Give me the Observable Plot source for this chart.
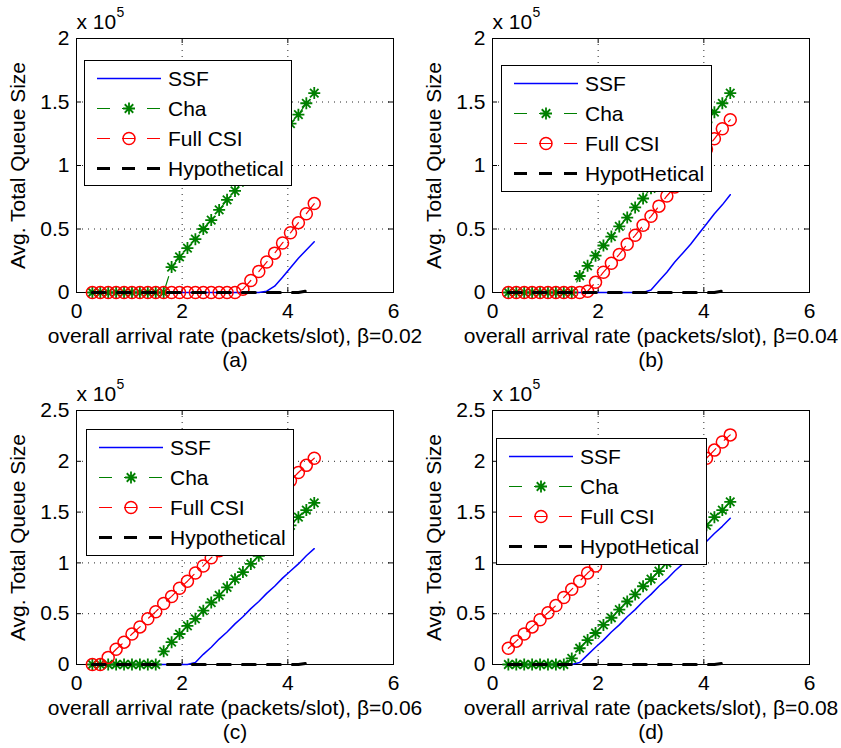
<!DOCTYPE html>
<html><head><meta charset="utf-8">
<script src="https://cdn.jsdelivr.net/npm/d3@7"></script>
<script src="https://cdn.jsdelivr.net/npm/@observablehq/plot@0.6"></script>
<style>
body{margin:0;background:#fff;}
#wrap{position:relative;width:841px;height:748px;font-family:"Liberation Sans",Arial,sans-serif;}
.panel{position:absolute;}
.panel svg{overflow:visible;}
.legend{position:absolute;overflow:visible;}
</style></head><body><div id="wrap"></div>
<script>
// ---- data (queue sizes in units of 1e5) ----
const rate = [0.3,0.45,0.6,0.75,0.9,1.05,1.2,1.35,1.5,1.65,1.8,1.95,2.1,2.25,2.4,2.55,2.7,2.85,3.0,3.15,3.3,3.45,3.6,3.75,3.9,4.05,4.2,4.35,4.5];
const xTicks = [0,2,4,6];
const yTicksAB = [0,0.5,1,1.5,2];
const yTicksCD = [0,0.5,1,1.5,2,2.5];
const seriesNames = ["SSF","Cha","Full CSI","Hypothetical"];
const seriesNamesAlt = ["SSF","Cha","Full CSI","HypotHetical"];
const xLabels = ["overall arrival rate (packets/slot), β=0.02","overall arrival rate (packets/slot), β=0.04","overall arrival rate (packets/slot), β=0.06","overall arrival rate (packets/slot), β=0.08"];
const tags = ["(a)","(b)","(c)","(d)"];
const yLabel = "Avg. Total Queue Size";

const ssfA  = [0,0,0,0,0,0,0,0,0,0,0,0,0,0,0,0,0,0,0,0,0,0,0.01,0.05,0.12,0.195,0.27,0.335,0.40];
const chaA  = [0,0,0,0,0,0,0,0,0,0,0.20,0.28,0.35,0.42,0.50,0.57,0.65,0.73,0.80,0.88,0.95,1.03,1.10,1.18,1.25,1.33,1.40,1.49,1.57];
const fullA = [0,0,0,0,0,0,0,0,0,0,0,0,0,0,0,0,0,0,0,0.025,0.095,0.165,0.24,0.31,0.39,0.47,0.55,0.62,0.70];
const hypA  = [0,0,0,0,0,0,0,0,0,0,0,0,0,0,0,0,0,0,0,0,0,0,0,0,0,0,0,0.012];

const ssfB  = [0,0,0,0,0,0,0,0,0,0,0,0,0,0,0,0,0,0,0.02,0.09,0.16,0.24,0.31,0.38,0.46,0.54,0.62,0.69,0.77];
const chaB  = [0,0,0,0,0,0,0,0,0,0.13,0.21,0.29,0.37,0.44,0.52,0.59,0.67,0.74,0.82,0.89,0.97,1.04,1.12,1.19,1.27,1.34,1.42,1.49,1.57];
const fullB = [0,0,0,0,0,0,0,0,0,0,0.01,0.08,0.16,0.23,0.30,0.38,0.45,0.53,0.60,0.68,0.76,0.83,0.91,0.98,1.06,1.13,1.21,1.29,1.36];
const hypB  = [0,0,0,0,0,0,0,0,0,0,0,0,0,0,0,0,0,0,0,0,0,0,0,0,0,0,0,0.012];

const ssfC  = [0,0,0,0,0,0,0,0,0,0,0,0,0,0.02,0.10,0.17,0.25,0.32,0.40,0.47,0.55,0.62,0.70,0.77,0.85,0.92,0.99,1.07,1.14];
const chaC  = [0,0,0,0,0,0,0,0,0,0.13,0.22,0.30,0.38,0.45,0.53,0.61,0.68,0.76,0.84,0.91,0.99,1.07,1.14,1.22,1.30,1.37,1.45,1.52,1.59];
const fullC = [0,0,0.07,0.15,0.22,0.30,0.37,0.45,0.52,0.60,0.67,0.75,0.82,0.90,0.97,1.05,1.12,1.20,1.27,1.35,1.42,1.50,1.57,1.65,1.73,1.81,1.89,1.96,2.03];
const hypC  = [0,0,0,0,0,0,0,0,0,0,0,0,0,0,0,0,0,0,0,0,0,0,0,0,0,0,0,0.012];

const ssfD  = [0,0,0,0,0,0,0,0,0,0.02,0.095,0.17,0.24,0.32,0.39,0.47,0.54,0.62,0.69,0.77,0.84,0.92,0.99,1.07,1.14,1.21,1.29,1.36,1.44];
const chaD  = [0,0,0,0,0,0,0,0,0.06,0.16,0.24,0.31,0.39,0.46,0.54,0.62,0.69,0.77,0.84,0.92,1.00,1.07,1.15,1.22,1.30,1.37,1.45,1.52,1.60];
const fullD = [0.16,0.23,0.30,0.37,0.44,0.51,0.58,0.66,0.74,0.82,0.90,0.97,1.05,1.12,1.20,1.27,1.35,1.43,1.50,1.58,1.65,1.73,1.80,1.88,1.96,2.03,2.11,2.19,2.26];
const hypD  = [0,0,0,0,0,0,0,0,0,0,0,0,0,0,0,0,0,0,0,0,0,0,0,0,0,0,0,0.012];

// ---- styling ----
const FONT = "Liberation Sans, Arial, Helvetica, sans-serif";
const FS = 21;
const C_SSF = "#0000ff", C_CHA = "#008000", C_FULL = "#ff0000", C_HYP = "#000000";
const DASH = "13,12";
const R_MARK = 6;

// MATLAB-like 8-arm asterisk
const star8 = {
  draw(ctx, size) {
    const r = Math.sqrt(size / Math.PI), d = r * Math.SQRT1_2;
    ctx.moveTo(-r, 0); ctx.lineTo(r, 0);
    ctx.moveTo(0, -r); ctx.lineTo(0, r);
    ctx.moveTo(-d, -d); ctx.lineTo(d, d);
    ctx.moveTo(-d, d); ctx.lineTo(d, -d);
  }
};

const W = 420, H = 374, ML = 76, MR = 27, MT = 38, MB = 82;
const FW = W - ML - MR, FH = H - MT - MB;

const toPts = (arr) => arr.map((y, i) => ({x: rate[i], y}));

function makePanel(p) {
  const ssf = toPts(p.ssf), cha = toPts(p.cha), full = toPts(p.full), hyp = toPts(p.hyp);
  const yMax = p.yTicks[p.yTicks.length - 1];
  const chart = Plot.plot({
    width: W, height: H,
    marginLeft: ML, marginRight: MR, marginTop: MT, marginBottom: MB,
    style: {fontFamily: FONT, fontSize: FS + "px", background: "transparent", overflow: "visible", color: "black"},
    x: {domain: [xTicks[0], xTicks[xTicks.length - 1]]},
    y: {domain: [0, yMax]},
    marks: [
      Plot.gridX(xTicks.slice(1, -1), {stroke: "black", strokeOpacity: 0.85, strokeDasharray: "1,5"}),
      Plot.gridY(p.yTicks.slice(1, -1), {stroke: "black", strokeOpacity: 0.85, strokeDasharray: "1,5"}),
      Plot.tickX(xTicks, {x: d => d, insetTop: FH - 5, stroke: "black"}),
      Plot.tickX(xTicks, {x: d => d, insetBottom: FH - 5, stroke: "black"}),
      Plot.tickY(p.yTicks, {y: d => d, insetRight: FW - 5, stroke: "black"}),
      Plot.tickY(p.yTicks, {y: d => d, insetLeft: FW - 5, stroke: "black"}),
      Plot.axisX({ticks: xTicks, tickSize: 0, tickPadding: 11, label: null, tickFormat: d => String(d)}),
      Plot.axisY({ticks: p.yTicks, tickSize: 0, tickPadding: 7, label: null, tickFormat: d => String(d)}),
      Plot.frame({stroke: "black", strokeWidth: 1}),
      // data
      Plot.line(ssf, {x: "x", y: "y", stroke: C_SSF, strokeWidth: 1.5}),
      Plot.line(cha, {x: "x", y: "y", stroke: C_CHA, strokeWidth: 1.2, strokeDasharray: DASH}),
      Plot.dot(cha, {x: "x", y: "y", r: R_MARK, symbol: star8, stroke: C_CHA, strokeWidth: 1.8, fill: "none"}),
      Plot.line(full, {x: "x", y: "y", stroke: C_FULL, strokeWidth: 1.2, strokeDasharray: DASH}),
      Plot.dot(full, {x: "x", y: "y", r: R_MARK, stroke: C_FULL, strokeWidth: 1.5, fill: "none"}),
      Plot.line(hyp, {x: "x", y: "y", stroke: C_HYP, strokeWidth: 3, strokeDasharray: DASH}),
      // texts
      Plot.text([yLabel], {frameAnchor: "left", textAnchor: "middle", lineAnchor: "middle", rotate: -90, dx: -58, fill: "black"}),
      Plot.text([p.xLabel], {frameAnchor: "bottom", lineAnchor: "middle", dy: 44, fill: "black"}),
      Plot.text([p.tag], {frameAnchor: "bottom", lineAnchor: "middle", dy: 68, fill: "black"}),
      Plot.text(["x 10"], {frameAnchor: "top-left", textAnchor: "start", lineAnchor: "middle", dy: -16, fill: "black"}),
      Plot.text(["5"], {frameAnchor: "top-left", textAnchor: "start", dx: 40, dy: -26, lineAnchor: "middle", fontSize: 14, fill: "black"})
    ]
  });
  const div = document.createElement("div");
  div.className = "panel";
  div.style.left = p.left + "px";
  div.style.top = p.top + "px";
  div.appendChild(chart);
  document.getElementById("wrap").appendChild(div);

  // legend box
  const lg = p.legend;
  const svg = d3.select("#wrap").append("svg").attr("class", "legend")
    .attr("width", lg.w).attr("height", lg.h)
    .style("left", (p.left + ML + lg.x) + "px").style("top", (p.top + MT + lg.y) + "px");
  svg.append("rect").attr("x", 0.5).attr("y", 0.5).attr("width", lg.w - 1).attr("height", lg.h - 1)
    .attr("fill", "white").attr("stroke", "black").attr("stroke-width", 1);
  const rows = [18, 48, 78, 108];
  const styles = [
    {c: C_SSF, w: 1.5, dash: null, mark: null},
    {c: C_CHA, w: 1.2, dash: DASH, mark: "star"},
    {c: C_FULL, w: 1.2, dash: DASH, mark: "circle"},
    {c: C_HYP, w: 3, dash: DASH, mark: null}
  ];
  p.names.forEach((name, i) => {
    const y = rows[i] + 0.5, s = styles[i];
    const ln = svg.append("line").attr("x1", 13).attr("x2", 77).attr("y1", y).attr("y2", y)
      .attr("stroke", s.c).attr("stroke-width", s.w);
    if (s.dash) ln.attr("stroke-dasharray", s.dash);
    if (s.mark === "star") {
      const pth = d3.path(); star8.draw(pth, R_MARK * R_MARK * Math.PI);
      svg.append("path").attr("d", pth.toString()).attr("transform", `translate(45,${y})`)
        .attr("stroke", s.c).attr("stroke-width", 1.8).attr("fill", "none");
    }
    if (s.mark === "circle") {
      svg.append("circle").attr("cx", 45).attr("cy", y).attr("r", R_MARK)
        .attr("stroke", s.c).attr("stroke-width", 1.5).attr("fill", "none");
    }
    svg.append("text").attr("x", 84).attr("y", y).attr("dy", "0.35em")
      .attr("font-family", FONT).attr("font-size", FS).attr("fill", "black").text(name);
  });
}

const panels = [
  {ssf: ssfA, cha: chaA, full: fullA, hyp: hypA, yTicks: yTicksAB, xLabel: xLabels[0], tag: tags[0], names: seriesNames,
   left: 0, top: 0, legend: {x: 8, y: 22, w: 208, h: 126}},
  {ssf: ssfB, cha: chaB, full: fullB, hyp: hypB, yTicks: yTicksAB, xLabel: xLabels[1], tag: tags[1], names: seriesNamesAlt,
   left: 416, top: 0, legend: {x: 9, y: 27, w: 211, h: 127}},
  {ssf: ssfC, cha: chaC, full: fullC, hyp: hypC, yTicks: yTicksCD, xLabel: xLabels[2], tag: tags[2], names: seriesNames,
   left: 0, top: 372, legend: {x: 10, y: 19, w: 208, h: 127}},
  {ssf: ssfD, cha: chaD, full: fullD, hyp: hypD, yTicks: yTicksCD, xLabel: xLabels[3], tag: tags[3], names: seriesNamesAlt,
   left: 416, top: 372, legend: {x: 4, y: 28, w: 211, h: 127}}
];
panels.forEach(makePanel);
</script>
</body></html>
